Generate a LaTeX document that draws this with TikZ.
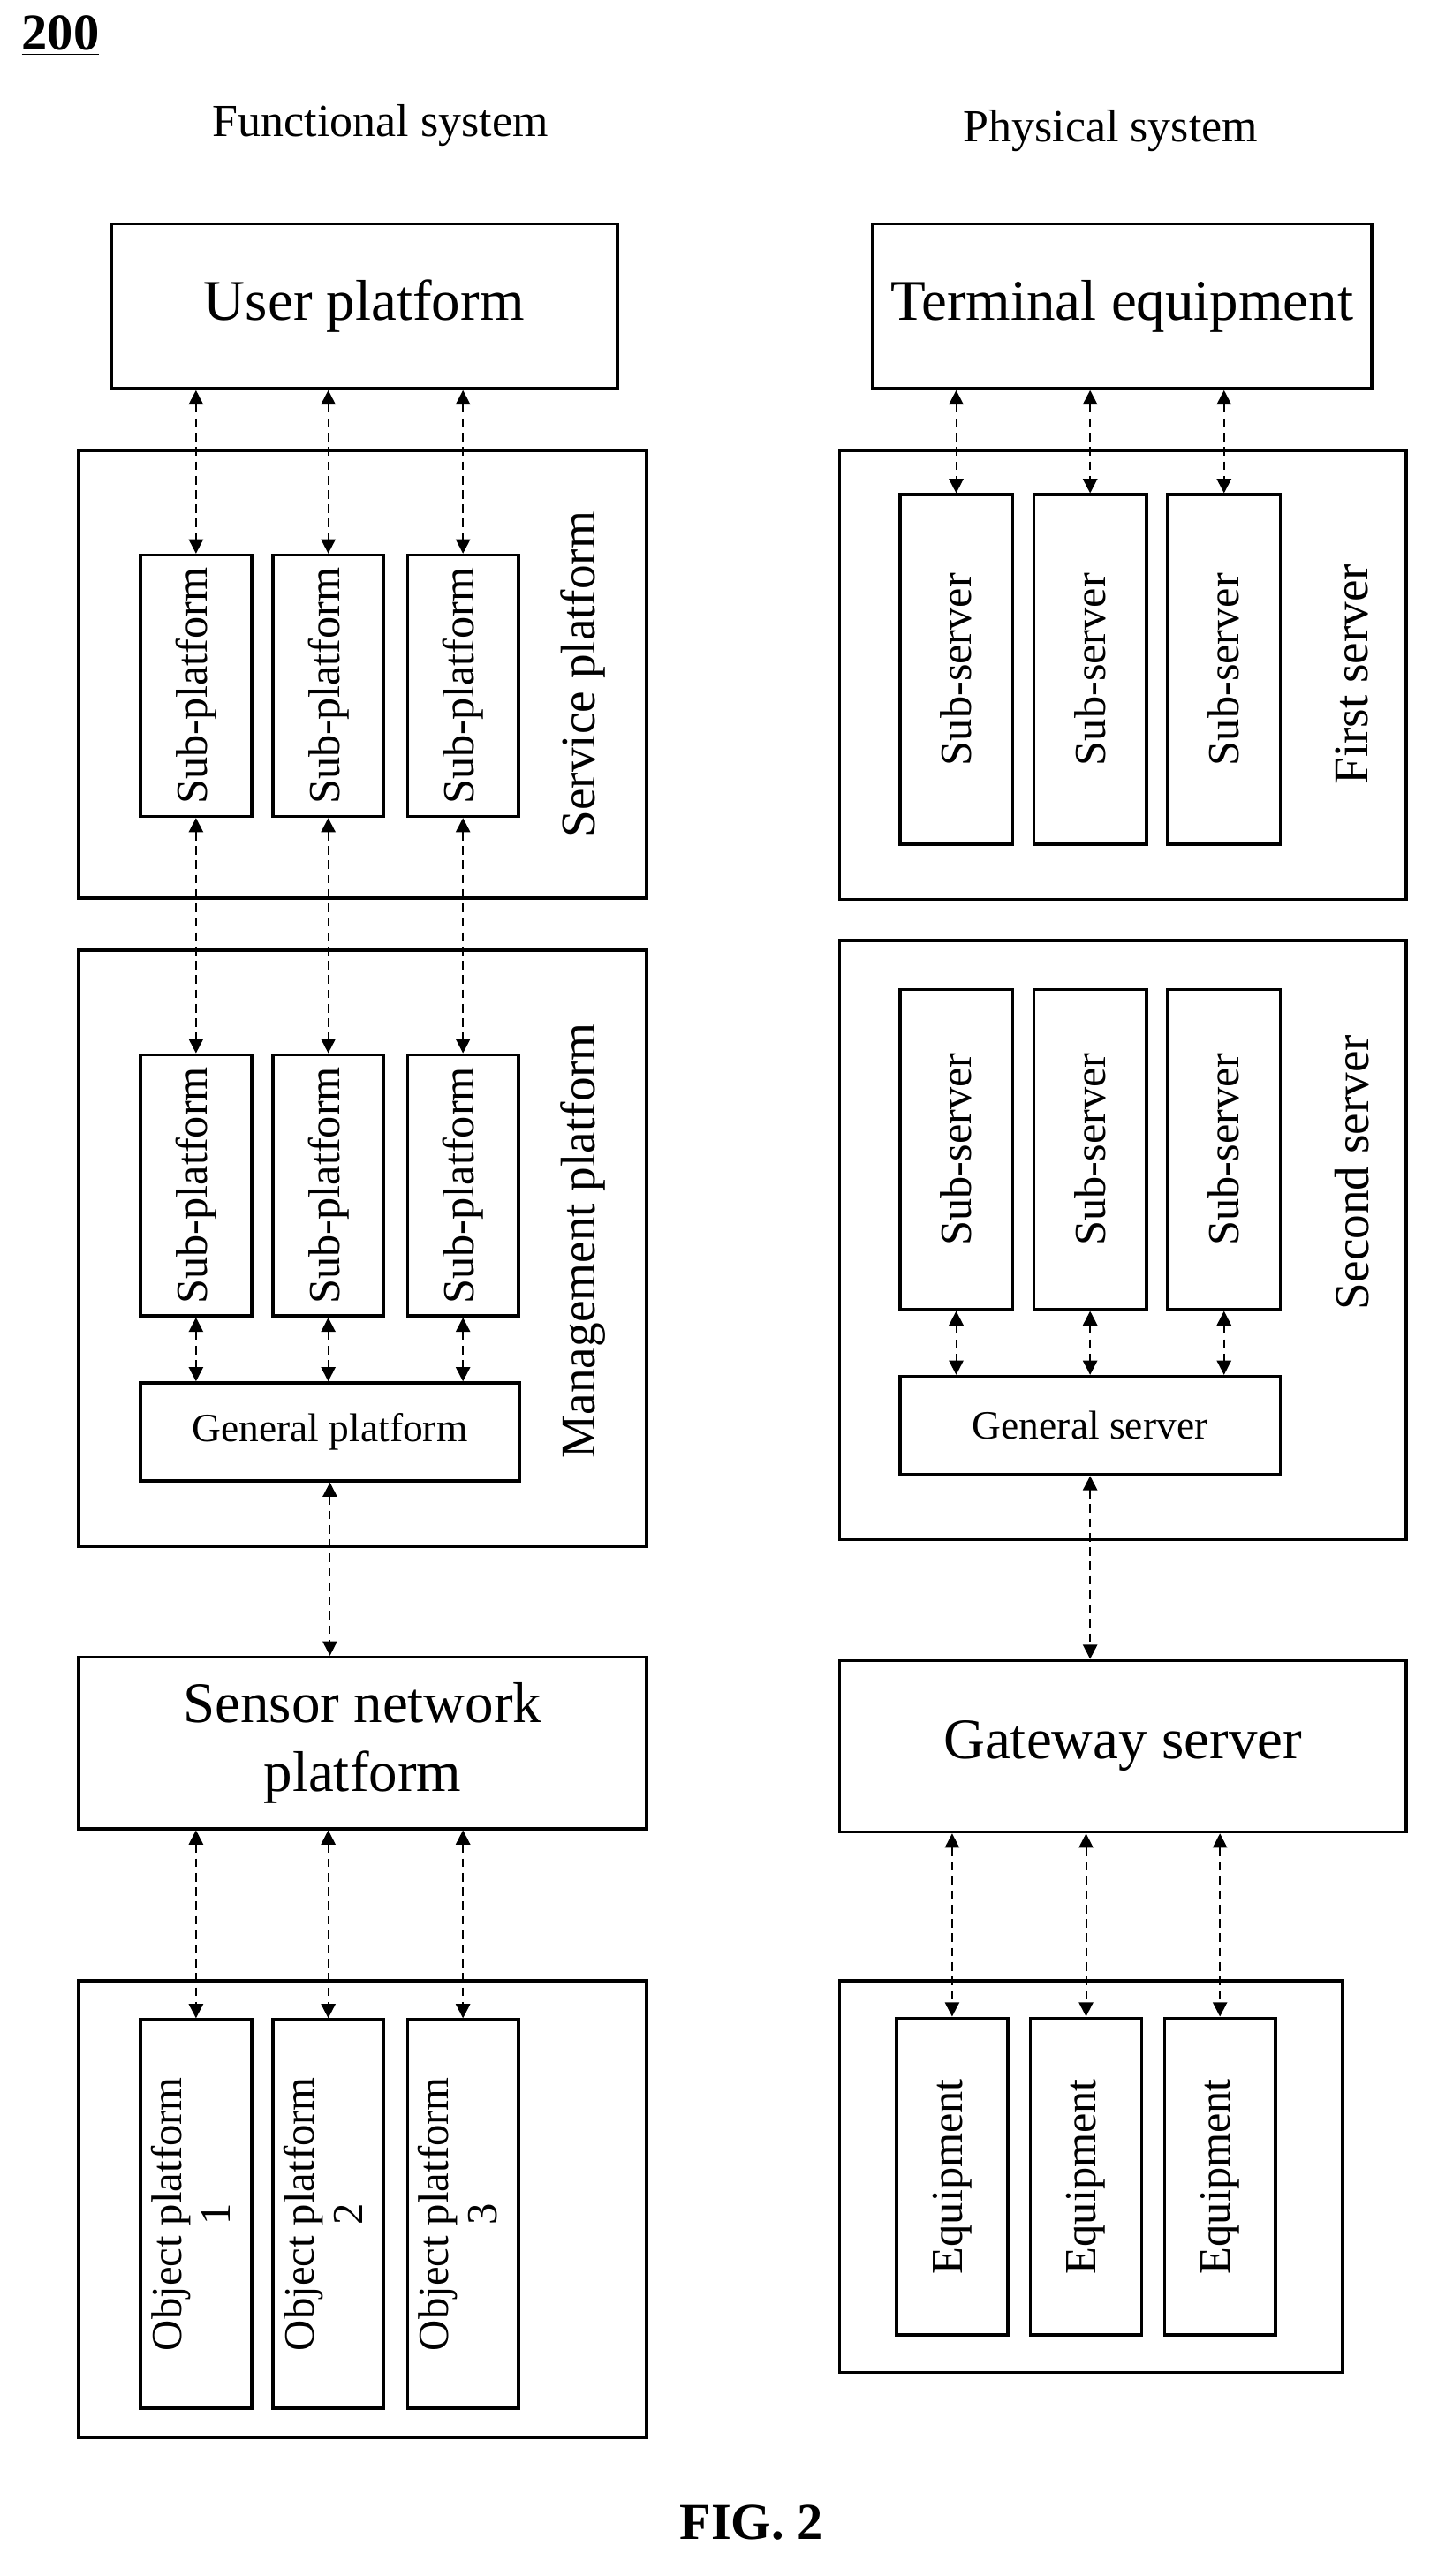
\documentclass[tikz,border=0pt]{standalone}
\usepackage{fontspec}
\setmainfont{Liberation Serif}
\usetikzlibrary{arrows.meta}
\tikzset{x=0.02cm, y=-0.02cm,
	box/.style={draw, line width=1.1pt, inner sep=0pt, align=center},
	outer/.style={box, minimum width=6.96cm},
	sub/.style={box, minimum width=1.36cm, font=\fontsize{15.5}{18}\selectfont},
	link/.style={>={Triangle[width=5pt,length=5pt]}, <->, line width=0.6pt, densely dashed}
}
\newcommand{\rot}[1]{\rotatebox{90}{#1}}
\begin{document}
\begin{tikzpicture}
	\useasboundingbox (0,0) rectangle (880,1577.7);
	\node[font=\bfseries\fontsize{18}{20}\selectfont] (num) at (37,22) {\underline{200}};
	\node[font=\fontsize{16}{18}\selectfont] (fs) at (233,77) {Functional system};
	\node[font=\fontsize{16}{18}\selectfont] (ps) at (680,80) {Physical system};
	% functional system
	\node[box, minimum width=6.2cm, minimum height=2.02cm, font=\fontsize{20}{24}\selectfont] (user) at (223,187.5) {User platform};
	\node[outer, minimum height=5.48cm] (service) at (222,413) {};
	\node[font=\fontsize{17}{20}\selectfont] (servicelbl) at (357,413) {\rot{Service platform}};
	\node[outer, minimum height=7.3cm] (manage) at (222,764.5) {};
	\node[font=\fontsize{17}{20}\selectfont] (managelbl) at (357,760) {\rot{Management platform}};
	\node[box, minimum width=4.64cm, minimum height=1.2cm, font=\fontsize{14}{16}\selectfont] (gp) at (202,877) {General platform};
	\node[outer, minimum height=2.1cm, font=\fontsize{20}{24}\selectfont] (sensor) at (222,1067.5) {Sensor network\\platform};
	\node[outer, minimum height=5.6cm] (object) at (222,1353) {};
	\foreach \i/\x in {1/120, 2/201, 3/283.5} {
		\node[sub, minimum height=3.2cm] (ss\i) at (\x,420) {\rot{Sub-platform}};
		\node[sub, minimum height=3.2cm] (ms\i) at (\x,726) {\rot{Sub-platform}};
		\node[sub, minimum height=4.76cm, font=\fontsize{15}{17}\selectfont] (op\i) at (\x,1356) {\rot{\begin{tabular}{c}Object platform\\\i\end{tabular}}};
		\draw[link] (user.south -| ss\i.north) -- (ss\i.north);
		\draw[link] (ss\i.south) -- (ms\i.north);
		\draw[link] (ms\i.south) -- (ms\i.south |- gp.north);
		\draw[link] (sensor.south -| op\i.north) -- (op\i.north);
	}
	\draw[link] (gp.south) -- (gp.south |- sensor.north);
	% physical system
	\node[box, minimum width=6.12cm, minimum height=2.02cm, font=\fontsize{20}{24}\selectfont] (term) at (687,187.5) {Terminal equipment};
	\node[box, minimum width=6.94cm, minimum height=5.5cm] (first) at (687.5,413.5) {};
	\node[font=\fontsize{17}{20}\selectfont] (firstlbl) at (828,413) {\rot{First server}};
	\node[box, minimum width=6.94cm, minimum height=7.34cm] (second) at (687.5,759.5) {};
	\node[font=\fontsize{17}{20}\selectfont] (secondlbl) at (828,718) {\rot{Second server}};
	\node[box, minimum width=4.66cm, minimum height=1.2cm, font=\fontsize{14}{16}\selectfont] (gs) at (667.5,873) {General server};
	\node[box, minimum width=6.94cm, minimum height=2.1cm, font=\fontsize{20}{24}\selectfont] (gateway) at (687.5,1069.5) {Gateway server};
	\node[box, minimum width=6.16cm, minimum height=4.8cm] (equip) at (668,1333) {};
	\foreach \i/\x/\e in {1/585.5/583, 2/667.5/665, 3/749.5/747} {
		\node[sub, minimum width=1.38cm, minimum height=4.28cm] (fs\i) at (\x,410) {\rot{Sub-server}};
		\node[sub, minimum width=1.38cm, minimum height=3.92cm] (sv\i) at (\x,704) {\rot{Sub-server}};
		\node[sub, minimum height=3.88cm] (eq\i) at (\e,1333) {\rot{Equipment}};
		\draw[link] (term.south -| fs\i.north) -- (fs\i.north);
		\draw[link] (sv\i.south) -- (sv\i.south |- gs.north);
		\draw[link] (gateway.south -| eq\i.north) -- (eq\i.north);
	}
	\draw[link] (gs.south) -- (gs.south |- gateway.north);
	\node[font=\bfseries\fontsize{18}{20}\selectfont] (fig) at (460,1545) {FIG. 2};
\end{tikzpicture}
\end{document}
